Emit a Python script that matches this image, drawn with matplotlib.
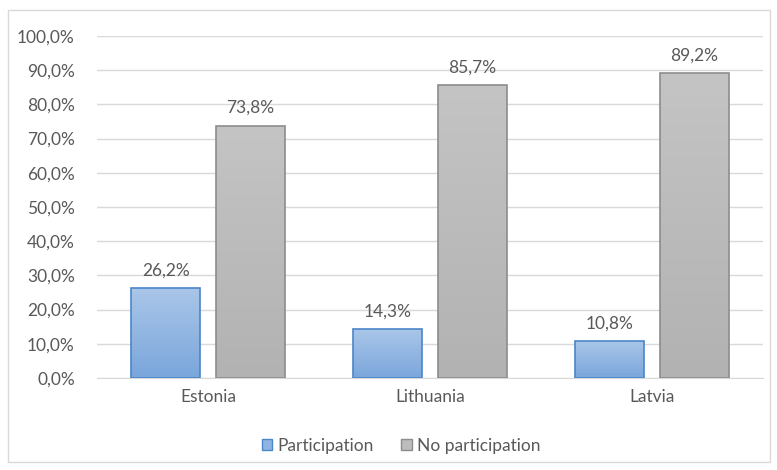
import numpy as np
import matplotlib.pyplot as plt
from matplotlib.patches import Rectangle, Patch
from matplotlib.colors import LinearSegmentedColormap

countries = ["Estonia", "Lithuania", "Latvia"]
participation = [26.2, 14.3, 10.8]
no_participation = [73.8, 85.7, 89.2]
series_names = ["Participation", "No participation"]

plt.rcParams['font.family'] = ['Lato', 'DejaVu Sans']
txt = '#595959'
fs = 12.5

fig = plt.figure(figsize=(7.77, 4.70), dpi=100)
# outer chart border
fig.patches.append(Rectangle((8 / 777, 1 - 462 / 470), 762 / 777, 452 / 470,
                             transform=fig.transFigure, fill=False,
                             edgecolor='#d9d9d9', linewidth=1))
ax = fig.add_axes([97 / 777, 1 - 378 / 470, 666 / 777, 342 / 470])

x = np.arange(len(countries))
w = 0.31
off = 0.19

blue_cmap = LinearSegmentedColormap.from_list('b', ['#7aa6dc', '#aac6e8'])
gray_cmap = LinearSegmentedColormap.from_list('g', ['#b2b2b2', '#c4c4c4'])
grad = np.linspace(0, 1, 256).reshape(-1, 1)


def gradient_bars(bars, cmap, edge):
    for b in bars:
        x0, y0 = b.get_x(), b.get_y()
        bw, bh = b.get_width(), b.get_height()
        im = ax.imshow(grad, cmap=cmap, aspect='auto', origin='lower',
                       extent=[x0, x0 + bw, y0, y0 + bh], zorder=2)
        im.set_clip_path(b)
        b.set_facecolor('none')
        b.set_edgecolor(edge)
        b.set_linewidth(1.2)
        b.set_zorder(3)


b1 = ax.bar(x - off, participation, w, label=series_names[0])
b2 = ax.bar(x + off, no_participation, w, label=series_names[1])
gradient_bars(b1, blue_cmap, '#4a86c8')
gradient_bars(b2, gray_cmap, '#8c8c8c')

for bars, vals in [(b1, participation), (b2, no_participation)]:
    for b, v in zip(bars, vals):
        ax.text(b.get_x() + b.get_width() / 2, v + 2.8, f"{v:.1f}%".replace('.', ','),
                ha='center', va='bottom', fontsize=fs, color=txt)

ax.set_xlim(-0.5, 2.5)
ax.set_ylim(0, 100)
ax.set_yticks(np.arange(0, 101, 10))
ax.set_yticklabels([f"{t:.1f}%".replace('.', ',') for t in np.arange(0, 101, 10)])
ax.set_xticks(x)
ax.set_xticklabels(countries)
ax.tick_params(axis='both', length=0, labelsize=fs, colors=txt)
ax.tick_params(axis='y', pad=16)
ax.tick_params(axis='x', pad=8)
ax.yaxis.grid(True, color='#d9d9d9', linewidth=1)
ax.set_axisbelow(True)
for s in ['top', 'right', 'left']:
    ax.spines[s].set_visible(False)
ax.spines['bottom'].set_color('#d9d9d9')

handles = [Patch(facecolor='#8fb4e3', edgecolor='#4a86c8'),
           Patch(facecolor='#bdbdbd', edgecolor='#8c8c8c')]
fig.legend(handles, series_names, loc='center', bbox_to_anchor=(401 / 777, 1 - 446 / 470),
           ncol=2, frameon=False, fontsize=fs, labelcolor=txt,
           handlelength=0.6, handleheight=0.6, handletextpad=0.3, columnspacing=1.6)

fig.savefig('out.png', dpi=100)
